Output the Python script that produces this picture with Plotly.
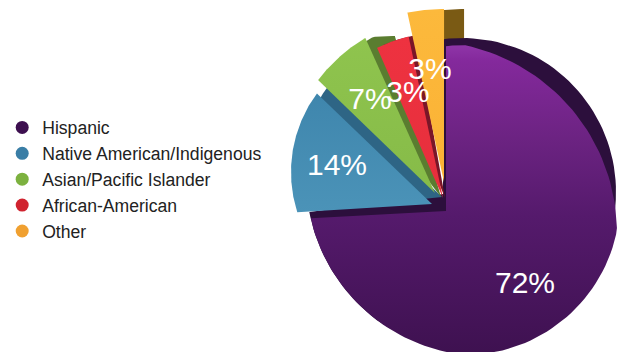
import math
import plotly.graph_objects as go

categories = ["Hispanic", "Native American/Indigenous", "Asian/Pacific Islander", "African-American", "Other"]
shares = [72, 14, 7, 3, 3]
legend_colors = ["#3d0f4f", "#3a7ea6", "#7cb13f", "#d0232f", "#f0a030"]

# Per-slice drawing setup: apex of the wedge, the circles bounding its outer edge,
# first edge in degrees clockwise from twelve o'clock, and a perspective factor on the sweep.
faces = [
    dict(apex=(446, 211), arcs=[(465, 200, 155), (425, 233, 192), (484, 178, 178)], start=0, stretch=1.03,
         grad=[[0, "#3e1150"], [0.45, "#551a6c"], [0.7, "#6c2382"], [0.95, "#84299c"], [1, "#8f35a8"]]),
    dict(apex=(432, 204), arcs=[(423, 172, 132)], start=266.5, stretch=0.94,
         grad=[[0, "#4b93b8"], [1, "#3f86ad"]]),
    dict(apex=(435, 193), arcs=[(448, 178.5, 163)], start=313.8, stretch=0.873,
         grad=[[0, "#86bb48"], [1, "#8fc44e"]]),
    dict(apex=(443, 198), arcs=[(446, 190, 158)], start=336.1, stretch=1.1,
         grad=[[0, "#e62f3c"], [1, "#ee3240"]]),
    dict(apex=(444, 182), arcs=[(442, 180, 171)], start=347.7, stretch=1.14,
         grad=[[0, "#fbb235"], [1, "#fcb93c"]]),
]
# Darker side walls drawn beneath each face.
walls = [
    dict(apex=(443, 194), arcs=[(462, 192, 154), (484, 178, 178)], start=0, stretch=1.012, color="#2c0f3c"),
    dict(apex=(442, 197), arcs=[(434, 165, 132)], start=264, stretch=0.99, color="#2e6585"),
    dict(apex=(441, 197), arcs=[(391, 196, 160), (448, 178.5, 160)], start=322, stretch=0.873, color="#5a7d30"),
    dict(apex=(445, 198), arcs=[(446, 190, 158)], start=338, stretch=1.1, color="#7a1628"),
    dict(apex=(464, 182), arcs=[(462, 180, 171)], start=347.7, stretch=1.14, color="#7a5a14"),
]
label_spots = [(525, 285), (337, 167), (370, 101), (408, 94), (430, 71)]


def wedge(value, apex, arcs, start, stretch, steps=120):
    """Outline of a slice: rays leave the apex at angles set by the share and stop at the nearest arc."""
    ax, ay = apex
    sweep = value * 3.6 * stretch
    xs, ys = [ax], [ay]
    for i in range(steps + 1):
        t = math.radians(start + sweep * i / steps)
        dx, dy = math.sin(t), -math.cos(t)
        reach = []
        for cx, cy, r in arcs:
            fx, fy = ax - cx, ay - cy
            b = fx * dx + fy * dy
            c = fx * fx + fy * fy - r * r
            reach.append(-b + math.sqrt(max(b * b - c, 0)))
        d = min(reach)
        xs.append(ax + d * dx)
        ys.append(ay + d * dy)
    xs.append(ax)
    ys.append(ay)
    return xs, ys


fig = go.Figure()


def add_wall(i):
    w = walls[i]
    xs, ys = wedge(shares[i], w["apex"], w["arcs"], w["start"], w["stretch"])
    fig.add_trace(go.Scatter(x=xs, y=ys, mode="lines", line=dict(width=0), fill="toself",
                             fillcolor=w["color"], hoverinfo="skip", showlegend=False))


def add_face(i):
    f = faces[i]
    xs, ys = wedge(shares[i], f["apex"], f["arcs"], f["start"], f["stretch"])
    fig.add_trace(go.Scatter(x=xs, y=ys, mode="lines", line=dict(width=0), fill="toself",
                             fillgradient=dict(type="vertical", colorscale=f["grad"]),
                             name=categories[i], hoverinfo="name", showlegend=False))


add_wall(4)
add_wall(0)
add_face(0)
for i in [1, 2, 3, 4]:
    if i != 4:
        add_wall(i)
    add_face(i)

fig.add_trace(go.Scatter(
    x=[p[0] for p in label_spots], y=[p[1] for p in label_spots],
    text=[f"{v}%" for v in shares], mode="text",
    textfont=dict(family="Liberation Sans", size=30, color="white"),
    textposition="middle center", hoverinfo="skip", showlegend=False))

for name, color in zip(categories, legend_colors):
    fig.add_trace(go.Scatter(x=[None], y=[None], mode="markers", name=name,
                             marker=dict(size=13, color=color)))

fig.update_layout(
    width=625, height=352, margin=dict(l=0, r=0, t=0, b=0),
    paper_bgcolor="white", plot_bgcolor="white",
    xaxis=dict(range=[0, 625], visible=False, fixedrange=True),
    yaxis=dict(range=[352, 0], visible=False, fixedrange=True),
    legend=dict(x=0.0035, y=0.49, yanchor="middle", xanchor="left", itemclick=False,
                font=dict(family="Liberation Sans", size=17.6, color="#222222"),
                bgcolor="rgba(0,0,0,0)"),
    showlegend=True,
)
fig.write_html("out.html", config=dict(displayModeBar=False))
